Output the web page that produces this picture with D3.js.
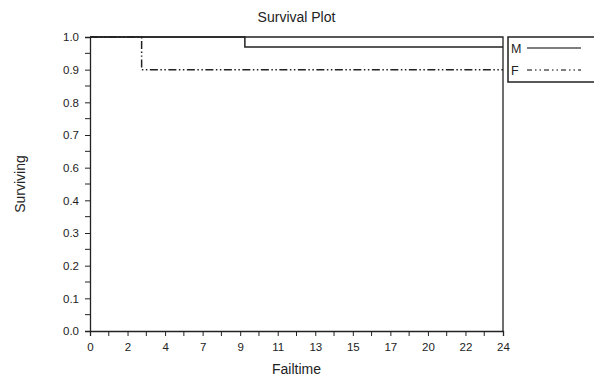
<!DOCTYPE html>
<html>
<head>
<meta charset="UTF-8">
<script src="https://cdn.jsdelivr.net/npm/d3@7/dist/d3.min.js"></script>
<style>
  body { margin: 0; background: #fff; font-family: "Liberation Sans", Arial, sans-serif; }
  svg text { fill: #222; }
</style>
</head>
<body>
<div id="chart"></div>
<script>
// series (step functions)
const seriesNames = ['M', 'F'];
const mTimes = [0, 9, 24];
const mSurv = [1, 0.966, 0.966];
const fTimes = [0, 3, 24];
const fSurv = [1, 0.889, 0.889];

// tick labels as printed (ticks are evenly spaced, labels rounded)
const xTickLabels = ['0', '2', '4', '7', '9', '11', '13', '15', '17', '20', '22', '24'];
const yTickLabels = ['0.0', '0.1', '0.2', '0.3', '0.4', '0.6', '0.7', '0.8', '0.9', '1.0'];

const width = 594, height = 379;
const margin = { top: 37, right: 91, bottom: 48, left: 90 };
const innerW = width - margin.left - margin.right;
const innerH = height - margin.top - margin.bottom;
const ink = '#222';

const svg = d3.select('#chart').append('svg')
  .attr('width', width).attr('height', height);

const g = svg.append('g').attr('transform', `translate(${margin.left},${margin.top})`);

const x = d3.scaleLinear().domain([0, 24]).range([0, innerW]);
const y = d3.scaleLinear().domain([0, 1]).range([innerH, 0]);

const xMaj = xTickLabels.map((_, i) => i * 24 / (xTickLabels.length - 1));
const yMaj = yTickLabels.map((_, i) => i / (yTickLabels.length - 1));
const mids = a => a.slice(1).map((v, i) => (v + a[i]) / 2);

// frame: top and right
g.append('path')
  .attr('d', `M0,0H${innerW}V${innerH}`)
  .attr('fill', 'none').attr('stroke', ink).attr('stroke-width', 1.3);

const xAxis = g.append('g').attr('transform', `translate(0,${innerH})`)
  .call(d3.axisBottom(x).tickValues(xMaj).tickFormat((d, i) => xTickLabels[i]).tickSize(5).tickPadding(7));
xAxis.append('g').selectAll('line').data(mids(xMaj)).join('line')
  .attr('x1', d => x(d)).attr('x2', d => x(d)).attr('y1', 0).attr('y2', 5).attr('stroke', ink);

const yAxis = g.append('g')
  .call(d3.axisLeft(y).tickValues(yMaj).tickFormat((d, i) => yTickLabels[i]).tickSize(5).tickPadding(6));
yAxis.append('g').selectAll('line').data(mids(yMaj)).join('line')
  .attr('y1', d => y(d)).attr('y2', d => y(d)).attr('x1', 0).attr('x2', -5).attr('stroke', ink);

g.selectAll('.domain').attr('stroke', ink).attr('stroke-width', 1.3);
g.selectAll('.tick line').attr('stroke', ink);
g.selectAll('.tick text').attr('font-size', 11.5).attr('fill', '#222');

const line = d3.line().x(d => x(d[0])).y(d => y(d[1])).curve(d3.curveStepAfter);
const styles = { M: null, F: '8,2.5,1.5,2.5,1.5,2.5' };
const series = [
  { name: 'M', pts: mTimes.map((t, i) => [t, mSurv[i]]) },
  { name: 'F', pts: fTimes.map((t, i) => [t, fSurv[i]]) }
];
g.selectAll('.curve').data(series).join('path')
  .attr('class', 'curve')
  .attr('d', d => line(d.pts))
  .attr('fill', 'none').attr('stroke', ink).attr('stroke-width', 1.5)
  .attr('stroke-dasharray', d => styles[d.name]);

// title + axis titles
svg.append('text').attr('x', margin.left + innerW / 2).attr('y', 22)
  .attr('text-anchor', 'middle').attr('font-size', 14).text('Survival Plot');
svg.append('text').attr('x', margin.left + innerW / 2).attr('y', 374)
  .attr('text-anchor', 'middle').attr('font-size', 14).text('Failtime');
svg.append('text').attr('transform', `translate(25,${margin.top + innerH / 2}) rotate(-90)`)
  .attr('text-anchor', 'middle').attr('font-size', 14).text('Surviving');

// legend
const lg = svg.append('g').attr('transform', 'translate(508,37)');
lg.append('rect').attr('x', 0).attr('y', 0).attr('width', 100).attr('height', 45)
  .attr('fill', '#fff').attr('stroke', ink).attr('stroke-width', 1.5);
const items = lg.selectAll('.item').data(seriesNames).join('g')
  .attr('transform', (d, i) => `translate(0,${11 + i * 22})`);
items.append('text').attr('x', 3).attr('y', 5).attr('font-size', 12.5).text(d => d);
items.append('line').attr('x1', 19).attr('x2', 73).attr('y1', 0).attr('y2', 0)
  .attr('stroke', '#555').attr('stroke-width', 1.3)
  .attr('stroke-dasharray', d => styles[d] ? '5,3,1.5,3,1.5,3' : null);
</script>
</body>
</html>
